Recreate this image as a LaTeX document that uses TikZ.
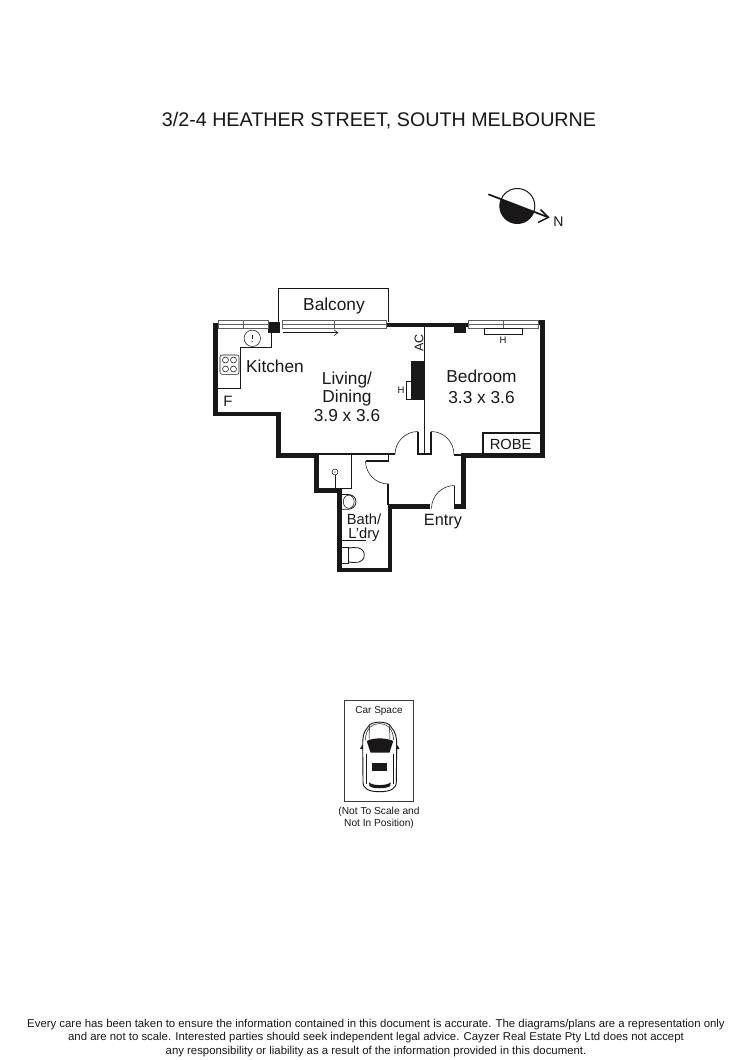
\documentclass[tikz,border=0pt]{standalone}
\usepackage{fontspec}
\setmainfont{Liberation Sans}
\definecolor{ink}{HTML}{1A1718}
\newcommand{\fsz}[1]{\fontsize{#1}{#1}\selectfont}
\begin{document}
\begin{tikzpicture}[x=1pt,y=-1pt,
  wall/.style={draw=ink,line width=4.6pt,line join=miter,line cap=butt},
  thinwall/.style={draw=ink,line width=1.7pt,line join=miter},
  fine/.style={draw=ink,line width=0.8pt},
  hair/.style={draw=ink,line width=0.55pt},
  win/.style={draw=ink!70,line width=0.6pt,fill=white},
  lab/.style={inner sep=0pt,text=ink,align=center},
  big/.style={lab,font=\fsz{17.3}},
  mid/.style={lab,font=\fsz{14.7}},
  small/.style={lab,font=\fsz{10}},
  tiny/.style={lab,font=\fsz{10.2}},
  foot/.style={lab,font=\fsz{11.38}}]
\useasboundingbox (0,0) rectangle (750,1060);
\fill[white] (0,0) rectangle (750,1060);

\node[lab,font=\fsz{19.7}] (title) at (379,121) {3/2-4 HEATHER STREET, SOUTH MELBOURNE};

% compass
\begin{scope}
\clip (488.3,194.3) -- (548.3,217.3) -- (548.3,240) -- (488.3,240) -- cycle;
\fill[ink] (517.3,206) circle (17.5);
\end{scope}
\draw[draw=ink,line width=1pt] (517.3,206) circle (17.5);
\draw[draw=ink,line width=1.7pt] (488.3,194.3) -- (548.3,217.3);
\draw[draw=ink,line width=1.5pt] (540.5,209.5) -- (548.3,217.3) -- (538,222.5);
\node[lab,font=\fsz{14}] (north) at (558.5,221.5) {N};

% balcony
\draw[draw=ink,line width=1.1pt] (278.3,322) -- (278.3,288.3) -- (388.3,288.3) -- (388.3,322);
\node[big] (balcony) at (334,306) {Balcony};

% outer walls
\draw[wall] (215.3,322.5) -- (215.3,414) -- (278.4,414) -- (278.4,455.5) -- (316.6,455.5) -- (316.6,490.2) -- (339.5,490.2) -- (339.5,570) -- (390,570) -- (390,506.3) -- (430,506.3);
\draw[wall] (454,506.3) -- (463.5,506.3) -- (463.5,455.6) -- (542.5,455.6) -- (542.5,322.6) -- (538,322.6);
\draw[draw=ink,line width=4pt] (386,324.7) -- (468.5,324.7);
\fill[ink] (268.3,322.3) rectangle (280,332.7);
\fill[ink] (454.3,326) rectangle (466,333);
\fill[ink] (411,361) rectangle (423.5,400);
\fill[ink] (213,322.5) rectangle (219,326.5);

% partition and thresholds
\draw[thinwall] (424.5,326) -- (424.5,454);
\draw[thinwall] (319,454) -- (395,454);
\draw[draw=ink,line width=2.2pt] (417,454) -- (432,454);
\draw[thinwall] (418,431.5) -- (418,454);
\draw[thinwall] (431,431.5) -- (431,454);
\draw[hair] (418,431.5) arc[start angle=-90,end angle=-180,radius=23];
\draw[hair] (431,431.5) arc[start angle=-90,end angle=0,radius=23];
\draw[draw=ink,line width=1.2pt] (454,455) -- (462,455);

% bath door
\draw[thinwall] (388.5,454) -- (388.5,461);
\draw[thinwall] (365.5,461) -- (389.4,461);
\draw[hair] (365.5,461) arc[start angle=180,end angle=90,radius=23];
\draw[thinwall] (388.2,484) -- (388.2,505);

% entry door
\draw[thinwall] (454.5,485.5) -- (454.5,505);
\draw[hair] (454.5,485.5) arc[start angle=-90,end angle=-180,radius=23];

% laundry cupboard
\draw[fine] (351.3,455) -- (351.3,488.5);
\draw[thinwall] (340,488.6) -- (352,488.6);
\draw[hair] (335,472) circle (3);
\fill[ink] (335,472) circle (0.6);
\draw[fine] (335,475) -- (335,488);

% bath fittings
\draw[fine] (342,494.5) -- (348,494.5) .. controls (352,494.5) and (356,497) .. (356,501.7) .. controls (356,506.5) and (352,509.3) .. (348,509.3) -- (342,509.3);
\draw[hair] (348.7,501.7) ellipse (5.4 and 6.6);
\draw[draw=ink,line width=1.2pt] (342,540.7) -- (365.7,540.7);
\draw[fine] (342,547) -- (348,547) -- (348,563.5) -- (342,563.5);
\draw[fine] (348,548.5) .. controls (353,546.5) and (364.3,546.5) .. (364.3,555) .. controls (364.3,563.5) and (353,563.5) .. (348,561.5);

% kitchen
\draw[fine] (271.7,332.7) -- (271.7,347.7) -- (240.7,347.7) -- (240.7,388.3) -- (217.5,388.3);
\draw[hair] (252.3,338.3) circle (8.2);
\draw[hair] (252.3,335) -- (252.3,339);
\fill[ink] (252.3,341.5) circle (0.6);
\draw[hair,rounded corners=2pt] (220,355) rectangle (239,374.3);
\foreach \cx/\cy in {225.5/360,233.5/360,225.5/369,233.5/369}{\draw[hair] (\cx,\cy) circle (3);}

% windows
\draw[win] (218.3,320.7) rectangle (268.3,328.7);
\draw[win] (218.3,324.7) -- (268.3,324.7);
\draw[win] (243.3,320.7) -- (243.3,328.7);
\draw[win] (282.3,320.7) rectangle (386,328.7);
\draw[win] (282.3,324.7) -- (386,324.7);
\draw[win] (334.3,320.7) -- (334.3,328.7);
\draw[hair] (283.3,332.7) -- (338,332.7);
\draw[hair] (334,329.8) -- (338,332.7) -- (334,335.6);
\draw[win] (468.3,320.3) rectangle (538.3,328.3);
\draw[win] (468.3,324.3) -- (538.3,324.3);
\draw[win] (503.3,320.3) -- (503.3,328.3);
\draw[hair] (484.3,328.3) rectangle (522.7,334);
\draw[hair] (406,381) rectangle (411,399.3);

% robe
\draw[thinwall] (483,454) -- (483,433) -- (490,433);
\draw[draw=ink,line width=1.1pt] (490,433) -- (540,433);

% room labels
\node[big] (kitchen) at (275,366.5) {Kitchen};
\node[lab,font=\fsz{15}] (fridge) at (228,401.5) {F};
\node[big] (living) at (347,396.5) {Living/\\[1.1pt]Dining\\[1.1pt]3.9 x 3.6};
\node[big] (bedroom) at (481.5,386.5) {Bedroom\\[3.5pt]3.3 x 3.6};
\node[mid] (robe) at (510.7,444) {ROBE};
\node[big,font=\fsz{16.3}] (entry) at (443,521.5) {Entry};
\node[mid] (bath) at (364,527.5) {Bath/\\[-0.5pt]L’dry};
\node[lab,font=\fsz{12.5},rotate=90] (ac) at (419,343) {AC};
\node[lab,font=\fsz{9.5}] (hone) at (401,390) {H};
\node[lab,font=\fsz{9.5}] (htwo) at (503,340.5) {H};

% car space
\draw[draw=ink!85,line width=0.8pt] (344.3,700) rectangle (413.3,801);
\node[small] (car) at (379,711.5) {Car Space};
\draw[draw=ink,line width=0.9pt] (368,727) .. controls (370,720.5) and (389,720.5) .. (391,727) .. controls (396,732) and (396.7,738) .. (396.7,745) -- (396.3,782) .. controls (396.3,789) and (390,791.7) .. (379.5,791.7) .. controls (369,791.7) and (363,789) .. (363,782) -- (362.7,745) .. controls (362.7,738) and (363,732) .. (368,727) -- cycle;
\draw[draw=ink,line width=0.5pt] (365.5,740) .. controls (365.5,728) and (373,723.5) .. (379.5,723.5) .. controls (386,723.5) and (393.5,728) .. (393.5,740);
\draw[draw=ink,line width=0.5pt] (369.5,726) -- (369,739);
\draw[draw=ink,line width=0.5pt] (389.5,726) -- (390,739);
\fill[ink] (366.7,741) .. controls (373,737.5) and (386,737.5) .. (393.3,741) -- (389.5,752.5) -- (370.5,752.5) -- cycle;
\fill[ink] (372.3,762.5) rectangle (387.3,770.7);
\fill[ink] (369,782.3) .. controls (372,786) and (387,786) .. (390.7,782.3) -- (390.2,786) .. controls (387,789) and (372,789) .. (369.5,786) -- cycle;
\fill[ink] (360,748.5) -- (362.8,744.5) -- (362.8,749.5) -- cycle;
\fill[ink] (399.5,748.5) -- (396.6,744.5) -- (396.6,749.5) -- cycle;
\draw[draw=ink,line width=1pt] (366,754) -- (366,771);
\draw[draw=ink,line width=1pt] (393,754) -- (393,771);
\draw[draw=ink,line width=0.5pt] (366,771) -- (366,784);
\draw[draw=ink,line width=0.5pt] (393,771) -- (393,784);
\node[tiny] (note) at (379,818) {(Not To Scale and\\[1.6pt]Not In Position)};

% footer
\node[foot] (disclaimer) at (376,1038) {Every care has been taken to ensure the information contained in this document is accurate. The diagrams/plans are a representation only\\[2.3pt]and are not to scale. Interested parties should seek independent legal advice. Cayzer Real Estate Pty Ltd does not accept\\[2.3pt]any responsibility or liability as a result of the information provided in this document.};
\end{tikzpicture}
\end{document}
